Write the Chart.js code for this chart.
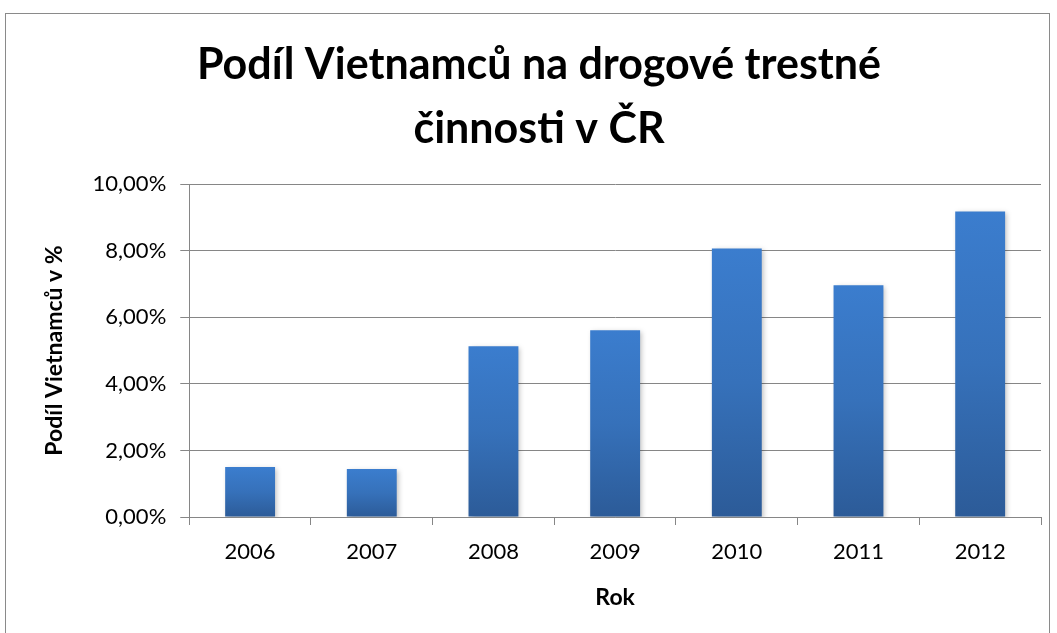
<!DOCTYPE html>
<html>
<head>
<meta charset="utf-8">
<script src="https://cdn.jsdelivr.net/npm/chart.js@4.4.0/dist/chart.umd.min.js"></script>
<style>
  html, body { margin: 0; padding: 0; background: #fff; }
  #wrap { width: 1057px; height: 633px; }
</style>
</head>
<body>
<div id="wrap"><canvas id="chart" width="1057" height="633"></canvas></div>
<script>
// data
const years = ["2006", "2007", "2008", "2009", "2010", "2011", "2012"];
const shares = [1.50, 1.44, 5.13, 5.61, 8.07, 6.96, 9.18];
const yTicks = ["0,00%", "2,00%", "4,00%", "6,00%", "8,00%", "10,00%"];

const titleLines = ["Podíl Vietnamců na drogové trestné", "činnosti v ČR"];
const font = "Lato, Calibri, 'Open Sans', sans-serif";

// each bar gets its own top->bottom gradient like in Excel
function barFill(c) {
  const chart = c.chart;
  if (!chart.chartArea || c.dataIndex === undefined) return "#3a76c4";
  const y = chart.scales.y;
  const top = y.getPixelForValue(shares[c.dataIndex]);
  const bottom = y.getPixelForValue(0);
  const g = chart.ctx.createLinearGradient(0, top, 0, bottom);
  g.addColorStop(0, "#3b7dce");
  g.addColorStop(0.5, "#3671ba");
  g.addColorStop(1, "#2c5b98");
  return g;
}

// frame round the whole chart + soft shadow under the bars
const framePlugin = {
  id: "frame",
  beforeDraw(chart) {
    const ctx = chart.ctx;
    ctx.save();
    ctx.strokeStyle = "#8a8a8a";
    ctx.lineWidth = 1;
    ctx.strokeRect(5.5, 13.5, 1044, 640);
    ctx.restore();
  },
  beforeDatasetDraw(chart) {
    const ctx = chart.ctx;
    ctx.save();
    ctx.shadowColor = "rgba(0,0,0,0.25)";
    ctx.shadowBlur = 5;
    ctx.shadowOffsetX = 2;
    ctx.shadowOffsetY = 2;
  },
  afterDatasetDraw(chart) {
    chart.ctx.restore();
  }
};

new Chart(document.getElementById("chart"), {
  type: "bar",
  data: {
    labels: years,
    datasets: [{
      data: shares,
      backgroundColor: barFill,
      barPercentage: 0.41,
      categoryPercentage: 1.0
    }]
  },
  options: {
    responsive: false,
    animation: false,
    layout: { padding: { left: 37, right: 16, top: 19, bottom: 18 } },
    plugins: {
      legend: { display: false },
      tooltip: { enabled: false },
      title: {
        display: true,
        text: titleLines,
        color: "#000",
        font: { family: font, size: 43, weight: "bold", lineHeight: 1.49 },
        padding: { top: 14, bottom: 23 }
      }
    },
    scales: {
      x: {
        offset: true,
        grid: {
          offset: true,
          drawOnChartArea: false,
          drawTicks: true,
          tickLength: 8,
          color: "#868686"
        },
        border: { color: "#868686", width: 1 },
        ticks: { color: "#000", font: { family: font, size: 22 }, padding: 14 },
        title: {
          display: true,
          text: "Rok",
          color: "#000",
          font: { family: font, size: 23, weight: "bold" },
          padding: { top: 4 }
        }
      },
      y: {
        min: 0,
        max: 10,
        ticks: {
          stepSize: 2,
          color: "#000",
          font: { family: font, size: 22 },
          padding: 14,
          callback: (v, i) => yTicks[i]
        },
        grid: { color: "#868686", lineWidth: 1, tickLength: 9 },
        border: { color: "#868686", width: 1 },
        title: {
          display: true,
          text: "Podíl Vietnamců v %",
          color: "#000",
          font: { family: font, size: 23, weight: "bold" },
          padding: { bottom: 10 }
        }
      }
    }
  },
  plugins: [framePlugin]
});
</script>
</body>
</html>
